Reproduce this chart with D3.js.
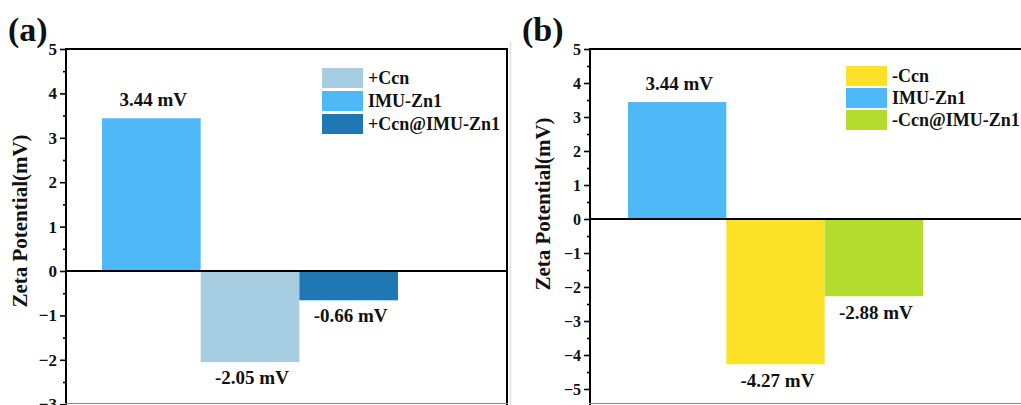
<!DOCTYPE html>
<html><head><meta charset="utf-8">
<script src="https://cdn.jsdelivr.net/npm/d3@7/dist/d3.min.js"></script>
<style>body{margin:0;background:#fff}svg{display:block}</style>
</head><body><svg id="c" width="1021" height="405"></svg>
<script>
// Panel (a)
const catsA = ["IMU-Zn1", "+Ccn", "+Ccn@IMU-Zn1"];
const valsA = [3.44, -2.05, -0.66];
const labelsA = ["3.44 mV", "-2.05 mV", "-0.66 mV"];
const legendA = ["+Ccn", "IMU-Zn1", "+Ccn@IMU-Zn1"];
const colorsA = {"+Ccn":"#a7cde2", "IMU-Zn1":"#4fb9f8", "+Ccn@IMU-Zn1":"#1f77b4"};
const ticksA = [5, 4, 3, 2, 1, 0, -1, -2, -3];
// Panel (b)
const catsB = ["IMU-Zn1", "-Ccn", "-Ccn@IMU-Zn1"];
const valsB = [3.44, -4.27, -2.27];
const labelsB = ["3.44 mV", "-4.27 mV", "-2.88 mV"];
const legendB = ["-Ccn", "IMU-Zn1", "-Ccn@IMU-Zn1"];
const colorsB = {"-Ccn":"#fbe228", "IMU-Zn1":"#4fb9f8", "-Ccn@IMU-Zn1":"#b4dc2e"};
const ticksB = [5, 4, 3, 2, 1, 0, -1, -2, -3, -4, -5];

const FONT = "'Liberation Serif', 'DejaVu Serif', serif";
const svg = d3.select("#c");
svg.append("line").attr("x1",510.5).attr("x2",510.5).attr("y1",42).attr("y2",405).attr("stroke","#e2e2e2").attr("stroke-width",1.5);

function T(sel, size){
  return sel.attr("font-family", FONT).style("font-family", FONT).attr("font-weight","bold").style("font-size", size+"px").attr("fill","#111");
}

function panel(o){
  const g = svg.append("g");
  const x = d3.scaleBand().domain(o.cats).range(o.barRange).padding(0);
  const y = d3.scaleLinear().domain(o.ydom).range(o.yrange);
  g.selectAll("rect.bar").data(o.cats).join("rect")
    .attr("x", d=>x(d)).attr("width", x.bandwidth())
    .attr("y", (d,i)=>y(Math.max(0,o.vals[i])))
    .attr("height", (d,i)=>Math.abs(y(o.vals[i])-y(0)))
    .attr("fill", d=>o.colors[d]);
  T(g.selectAll("text.val").data(o.cats).join("text")
    .attr("x", d=>x(d)+x.bandwidth()/2+2)
    .attr("y", (d,i)=> o.vals[i]>=0 ? y(o.vals[i])-12 : y(o.vals[i])+o.lblOff)
    .attr("text-anchor","middle")
    .text((d,i)=>o.labels[i]), o.valFont);
  g.append("line").attr("x1",o.left).attr("x2",o.right).attr("y1",o.top).attr("y2",o.top).attr("stroke","#000").attr("stroke-width",2);
  g.append("line").attr("x1",o.left).attr("x2",o.left).attr("y1",o.top-1).attr("y2",o.bottom).attr("stroke","#000").attr("stroke-width",2);
  if (o.right < 1021) g.append("line").attr("x1",o.right).attr("x2",o.right).attr("y1",o.top-1).attr("y2",o.bottom).attr("stroke","#000").attr("stroke-width",2);
  g.append("line").attr("x1",o.left).attr("x2",o.right).attr("y1",y(0)).attr("y2",y(0)).attr("stroke","#000").attr("stroke-width",2);
  g.append("line").attr("x1",o.left-1).attr("x2",Math.min(o.right+1,1021)).attr("y1",403.5).attr("y2",403.5).attr("stroke","#8a8a8a").attr("stroke-width",1.2);
  const ax = g.append("g").attr("transform",`translate(${o.left},0)`)
    .call(d3.axisLeft(y).tickValues(o.ticks).tickSize(6).tickSizeOuter(0).tickPadding(3).tickFormat(d3.format("d")));
  ax.select(".domain").remove();
  ax.attr("font-family", FONT);
  ax.selectAll("line").attr("stroke","#000").attr("stroke-width",1.6);
  T(ax.selectAll("text"), o.tickFont);
  const minors = o.ticks.slice(1).map(t=>t+0.5);
  const am = g.append("g").attr("transform",`translate(${o.left},0)`)
    .call(d3.axisLeft(y).tickValues(minors).tickSize(3).tickFormat(""));
  am.select(".domain").remove();
  am.selectAll("line").attr("stroke","#000").attr("stroke-width",1.6);
  T(svg.append("text").attr("transform",`translate(${o.titleX},${o.titleY}) rotate(-90)`)
    .attr("text-anchor","middle").text("Zeta Potential(mV)"), o.titleFont);
  T(svg.append("text").attr("x",o.letterX).attr("y",41).text(o.letter), 34);
  const lg = g.append("g");
  o.legend.forEach((k,i)=>{
    lg.append("rect").attr("x",o.legX).attr("y",o.legY+i*o.legStep).attr("width",41).attr("height",20).attr("fill",o.colors[k]);
    T(lg.append("text").attr("x",o.legX+46).attr("y",o.legY+i*o.legStep+16).text(k), 18);
  });
}

panel({cats:catsA, vals:valsA, labels:labelsA, colors:colorsA, ticks:ticksA, legend:legendA,
  barRange:[102,398], ydom:[-3,5], yrange:[404.2,49], left:66, right:507, top:49, bottom:405,
  lblOff:22, valFont:19, tickFont:17, titleX:27, titleY:221, titleFont:21, letter:"(a)", letterX:8,
  legX:322, legY:68, legStep:23});
panel({cats:catsB, vals:valsB, labels:labelsB, colors:colorsB, ticks:ticksB, legend:legendB,
  barRange:[628,923], ydom:[-5,5], yrange:[389,49], left:590, right:1030, top:49, bottom:405,
  lblOff:23, valFont:19, tickFont:16, titleX:550, titleY:204, titleFont:21, letter:"(b)", letterX:522,
  legX:846, legY:66, legStep:22});
</script></body></html>
